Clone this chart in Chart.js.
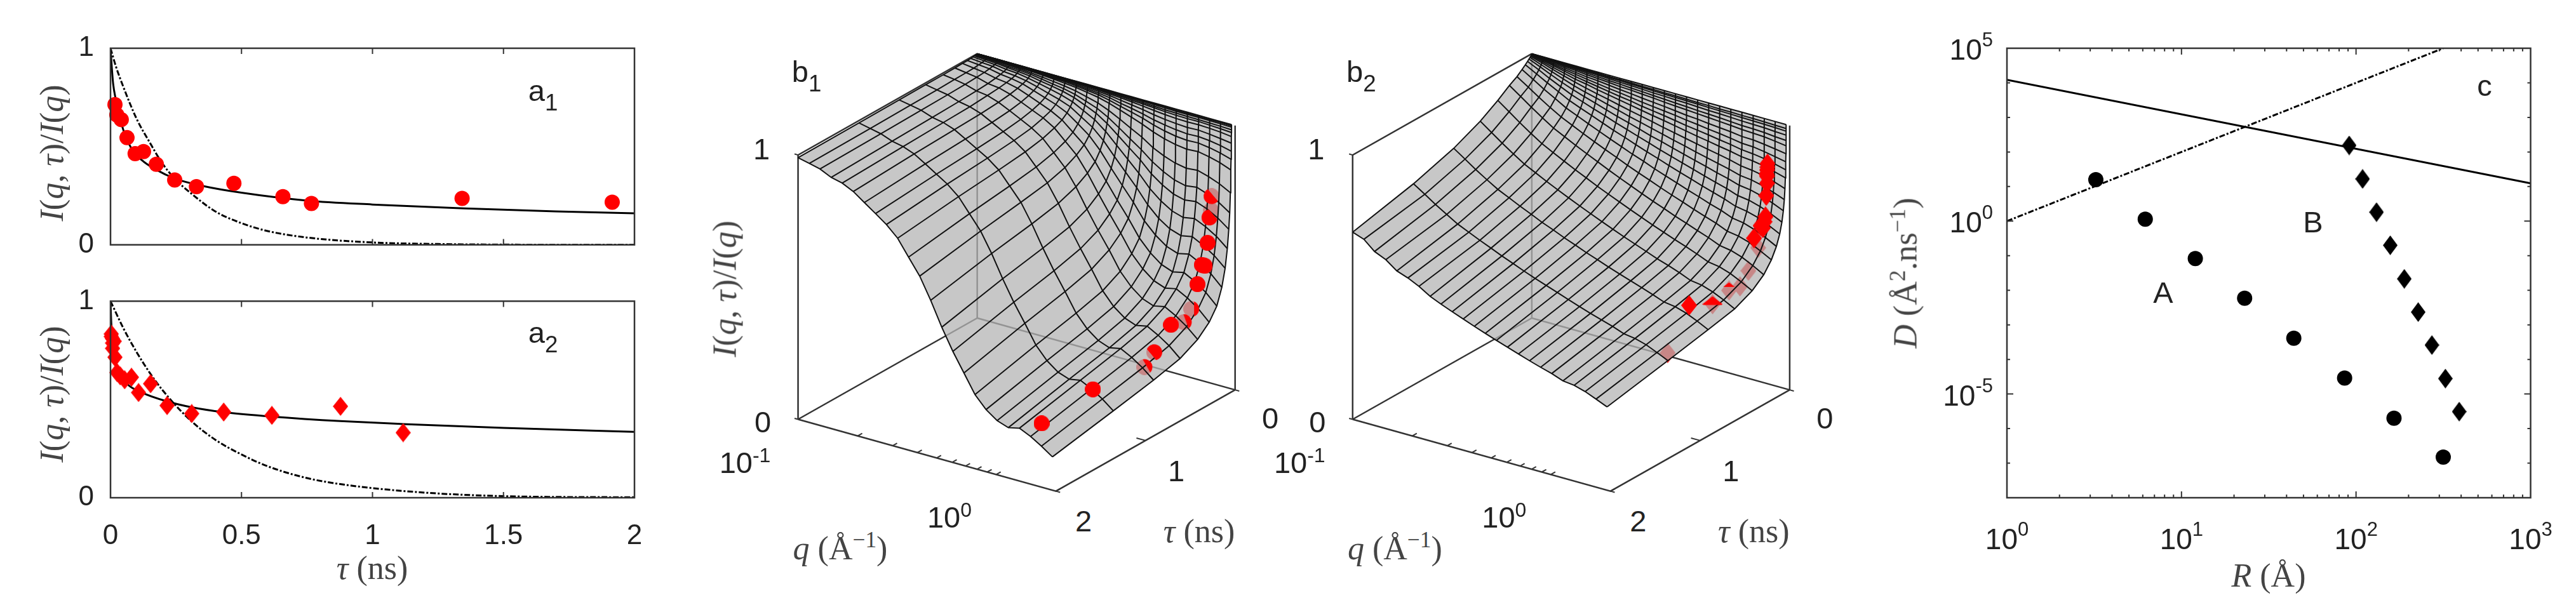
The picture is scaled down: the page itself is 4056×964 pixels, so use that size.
<!DOCTYPE html>
<html>
<head>
<meta charset="utf-8">
<title>I(q,tau)/I(q)</title>
<script src="https://cdn.jsdelivr.net/npm/chart.js@4"></script>
<style>
body { margin: 0; background: #fff; width: 4056px; height: 964px; overflow: hidden; position: relative; }
canvas { position: absolute; }
.t { position: absolute; transform: translate(-50%, -50%); white-space: nowrap; color: #222; font: 47px "Liberation Sans", sans-serif; }
.m { font: 52px "Liberation Serif", serif; color: #444; }
.r { transform: translate(-50%, -50%) rotate(-90deg); }
sup { font-size: 68%; line-height: 0; }
sub { font-size: 78%; line-height: 0; vertical-align: -0.42em; }
</style>
</head>
<body>
<script>
// panel a1 : tau (ns) against I(q,tau)/I(q)
const a1Tau = [0.017, 0.024, 0.041, 0.063, 0.094, 0.126, 0.175, 0.245, 0.328, 0.471, 0.658, 0.767, 1.342, 1.915];
const a1Val = [0.713, 0.661, 0.637, 0.545, 0.464, 0.474, 0.41, 0.33, 0.296, 0.313, 0.245, 0.21, 0.236, 0.217];
const a1SolidTau = [0, 0.005, 0.01, 0.02, 0.03, 0.05, 0.08, 0.12, 0.17, 0.25, 0.35, 0.5, 0.75, 1, 1.35, 1.7, 2];
const a1SolidVal = [1, 0.9, 0.82, 0.74, 0.68, 0.58, 0.49, 0.43, 0.385, 0.335, 0.3, 0.265, 0.225, 0.205, 0.185, 0.17, 0.16];
const a1DashTau = [0, 0.02, 0.05, 0.1, 0.15, 0.2, 0.25, 0.3, 0.4, 0.5, 0.6, 0.75, 1, 1.25, 1.5, 2];
const a1DashVal = [1, 0.91, 0.8, 0.64, 0.52, 0.41, 0.33, 0.27, 0.17, 0.11, 0.07, 0.037, 0.012, 0.004, 0.001, 0];

// panel a2
const a2Tau = [0.003, 0.003, 0.007, 0.008, 0.008, 0.014, 0.017, 0.025, 0.037, 0.054, 0.08, 0.107, 0.153, 0.216, 0.31, 0.432, 0.616, 0.878, 1.117];
const a2Val = [0.833, 0.82, 0.81, 0.787, 0.76, 0.796, 0.715, 0.637, 0.62, 0.6, 0.613, 0.535, 0.58, 0.469, 0.428, 0.436, 0.419, 0.465, 0.331];
const a2SolidTau = [0, 0.003, 0.012, 0.03, 0.063, 0.12, 0.216, 0.31, 0.43, 0.616, 0.878, 1.117, 1.5, 2];
const a2SolidVal = [1, 0.89, 0.74, 0.647, 0.58, 0.535, 0.49, 0.46, 0.435, 0.413, 0.39, 0.375, 0.355, 0.335];
const a2DashTau = [0, 0.05, 0.1, 0.15, 0.2, 0.3, 0.4, 0.5, 0.6, 0.75, 0.9, 1.2, 1.5, 2];
const a2DashVal = [1, 0.86, 0.74, 0.635, 0.545, 0.4, 0.295, 0.22, 0.16, 0.1, 0.065, 0.026, 0.008, 0.002];

// surfaces b1, b2 : one row per tau, one column per q
const qGrid = [0.1, 0.114, 0.129, 0.147, 0.167, 0.19, 0.216, 0.246, 0.279, 0.318, 0.361, 0.411, 0.467, 0.531, 0.604, 0.687, 0.781, 0.888, 1.01, 1.15, 1.31, 1.49, 1.69, 1.92];
const tauGrid = [2, 1.32, 0.871, 0.575, 0.379, 0.25, 0.165, 0.109, 0.072, 0.0475, 0.0314, 0.0207, 0.0137, 0.009, 0.006, 0.0039, 0.0026, 0.0017, 0.0011, 0.0007, 0.0005, 0.0003, 0];
const b1Surface = [
  [.99,.98,.97,.95,.94,.92,.89,.86,.83,.79,.73,.67,.59,.50,.42,.35,.28,.235,.205,.19,.20,.18,.155,.126],
  [.991,.982,.973,.957,.948,.932,.906,.879,.853,.817,.764,.710,.637,.553,.476,.408,.337,.290,.258,.243,.251,.230,.203,.17],
  [.992,.984,.976,.961,.953,.938,.914,.889,.865,.832,.783,.733,.663,.583,.509,.442,.372,.324,.292,.276,.285,.263,.235,.20],
  [.993,.985,.978,.964,.956,.942,.920,.897,.875,.844,.798,.750,.684,.607,.536,.470,.400,.352,.320,.304,.313,.290,.262,.225],
  [.993,.987,.980,.967,.961,.947,.927,.906,.885,.857,.815,.770,.709,.636,.568,.505,.436,.389,.356,.340,.349,.326,.297,.26],
  [.994,.988,.982,.970,.965,.953,.935,.916,.898,.872,.833,.793,.736,.669,.605,.544,.478,.432,.399,.383,.392,.369,.340,.30],
  [.995,.989,.984,.974,.969,.959,.943,.926,.909,.886,.851,.815,.763,.701,.641,.584,.521,.476,.444,.428,.437,.415,.385,.345],
  [.995,.991,.987,.978,.973,.965,.951,.936,.922,.902,.872,.840,.795,.739,.686,.634,.575,.533,.502,.487,.496,.474,.445,.405],
  [.996,.992,.989,.981,.977,.970,.959,.946,.934,.918,.891,.864,.825,.776,.729,.682,.629,.589,.561,.547,.555,.534,.507,.47],
  [.997,.994,.991,.985,.982,.975,.966,.956,.946,.932,.910,.888,.855,.814,.773,.732,.685,.650,.624,.611,.619,.600,.575,.54],
  [.998,.995,.993,.988,.985,.980,.972,.965,.957,.945,.928,.909,.882,.848,.813,.779,.738,.708,.685,.674,.680,.664,.641,.61],
  [.998,.996,.994,.990,.988,.984,.978,.971,.965,.955,.941,.926,.903,.875,.845,.816,.782,.756,.736,.726,.732,.717,.698,.67],
  [.999,.997,.996,.993,.991,.988,.984,.979,.974,.967,.956,.945,.928,.907,.884,.862,.834,.814,.799,.791,.795,.783,.767,.745],
  [.999,.998,.997,.995,.994,.993,.990,.987,.983,.979,.972,.965,.954,.940,.925,.910,.892,.878,.868,.862,.865,.857,.846,.83],
  [.999,.999,.998,.997,.996,.994,.992,.990,.988,.984,.979,.974,.965,.954,.943,.932,.918,.907,.899,.895,.897,.891,.882,.87],
  [.999,.999,.998,.997,.997,.996,.994,.992,.991,.988,.984,.980,.974,.965,.957,.948,.937,.929,.923,.919,.921,.917,.910,.90],
  [1,.999,.999,.998,.998,.997,.996,.995,.993,.992,.989,.986,.982,.976,.970,.964,.956,.950,.946,.943,.945,.941,.936,.93],
  [1,1,.999,.999,.999,.998,.997,.997,.996,.995,.993,.991,.988,.985,.981,.977,.972,.968,.965,.964,.965,.963,.960,.955],
  [1,1,1,.999,.999,.999,.998,.998,.997,.997,.995,.994,.992,.990,.987,.985,.982,.979,.977,.976,.977,.975,.973,.97],
  [1,1,1,1,.999,.999,.999,.999,.998,.998,.997,.996,.995,.993,.992,.990,.988,.986,.985,.984,.984,.983,.982,.98],
  [1,1,1,1,1,1,.999,.999,.999,.999,.998,.998,.997,.997,.996,.995,.994,.993,.992,.992,.992,.992,.991,.99],
  [1,1,1,1,1,1,1,1,1,.999,.999,.999,.999,.998,.998,.997,.997,.997,.996,.996,.996,.996,.996,.995],
  [1,1,1,1,1,1,1,1,1,1,1,1,1,1,1,1,1,1,1,1,1,1,1,1]
];
const b2Surface = [
  [.708,.693,.658,.639,.608,.593,.573,.547,.529,.512,.496,.480,.465,.450,.436,.422,.408,.395,.383,.367,.362,.350,.333,.315],
  [.761,.733,.706,.680,.655,.636,.617,.599,.581,.564,.547,.531,.516,.501,.486,.471,.457,.444,.431,.415,.409,.397,.379,.36],
  [.809,.780,.752,.725,.700,.680,.660,.641,.622,.605,.587,.571,.554,.539,.523,.508,.494,.480,.465,.449,.443,.430,.412,.391],
  [.855,.824,.795,.766,.739,.718,.697,.677,.658,.639,.621,.603,.586,.569,.553,.537,.521,.507,.492,.474,.468,.454,.435,.413],
  [.896,.865,.835,.806,.779,.757,.736,.715,.696,.676,.658,.640,.622,.605,.588,.572,.556,.541,.525,.507,.500,.486,.466,.444],
  [.928,.898,.869,.840,.813,.792,.771,.751,.732,.712,.694,.676,.658,.641,.625,.608,.593,.577,.562,.544,.537,.523,.503,.48],
  [.945,.917,.890,.863,.839,.819,.799,.780,.762,.744,.726,.709,.693,.676,.660,.645,.629,.614,.600,.582,.575,.562,.542,.52],
  [.961,.935,.910,.886,.862,.844,.826,.808,.791,.774,.757,.742,.725,.710,.695,.680,.666,.651,.638,.621,.614,.600,.582,.56],
  [.972,.949,.927,.905,.883,.866,.850,.833,.817,.802,.786,.771,.757,.742,.728,.714,.700,.687,.674,.658,.651,.639,.621,.60],
  [.98,.960,.939,.919,.900,.885,.870,.856,.841,.827,.813,.799,.785,.772,.759,.746,.733,.721,.709,.694,.688,.676,.660,.64],
  [.986,.968,.950,.932,.916,.902,.889,.875,.862,.850,.837,.824,.813,.801,.789,.777,.766,.754,.743,.730,.724,.713,.698,.68],
  [.99,.974,.959,.944,.929,.917,.906,.894,.883,.871,.861,.850,.839,.828,.818,.807,.797,.787,.777,.765,.760,.750,.736,.72],
  [.993,.980,.967,.954,.942,.931,.921,.912,.902,.892,.883,.874,.864,.855,.846,.837,.828,.820,.811,.800,.795,.787,.775,.76],
  [.995,.984,.973,.963,.952,.945,.936,.928,.920,.912,.904,.896,.889,.881,.873,.865,.858,.850,.843,.834,.830,.823,.812,.80],
  [.997,.988,.979,.970,.961,.954,.947,.940,.933,.927,.919,.913,.907,.900,.893,.887,.881,.874,.868,.860,.856,.850,.841,.83],
  [.998,.991,.983,.976,.969,.963,.957,.951,.946,.940,.934,.929,.924,.919,.913,.908,.902,.897,.891,.884,.882,.876,.868,.86],
  [.999,.993,.987,.982,.976,.971,.968,.963,.958,.954,.949,.945,.941,.936,.931,.928,.923,.919,.915,.909,.908,.903,.897,.89],
  [.999,.995,.991,.987,.983,.979,.976,.973,.969,.967,.964,.961,.957,.954,.951,.948,.945,.942,.939,.935,.933,.931,.926,.92],
  [1,.997,.994,.991,.988,.985,.983,.980,.978,.975,.973,.970,.968,.965,.963,.960,.958,.956,.953,.950,.949,.947,.943,.94],
  [1,.998,.996,.994,.992,.990,.989,.987,.985,.984,.982,.980,.979,.977,.976,.974,.972,.971,.969,.967,.966,.965,.962,.96],
  [1,.999,.998,.996,.995,.994,.993,.992,.991,.990,.989,.988,.987,.986,.985,.984,.983,.982,.981,.980,.979,.978,.977,.975],
  [1,.999,.999,.998,.997,.996,.996,.995,.995,.994,.993,.993,.992,.992,.991,.990,.990,.989,.989,.988,.988,.987,.986,.985],
  [1,1,1,1,1,1,1,1,1,1,1,1,1,1,1,1,1,1,1,1,1,1,1,1]
];
const qMeasured = 1.55;
// markers behind the surface, and the part of a marker that pokes through it
const b1Faded = [0.767, 0.658, 0.328, 0.245, 0.024, 0.017, 0.041];
const b1Poke = [[0.767, 0.35, -30], [0.658, 0.72, -40], [0.328, 0.35, -20], [0.245, 0.32, 0], [0.017, 0.6, 140], [0.041, 0.8, 140]];
const b2Faded = [1.117, 0.616, 0.432, 0.31, 0.216, 0.107];
const b2Poke = [[0.616, 0.55, -90], [0.432, 0.28, -90]];
const qTicks = [0.2, 0.3, 0.4, 0.5, 0.6, 0.7, 0.8, 0.9, 1, 2];
const tauTicks = [0, 1, 2];

// panel c : R against D
const cARadius = [3.23, 6.2, 12, 23, 44, 86, 165, 316];
const cADiff = [15.8, 1.14, 0.083, 0.0059, 4.1e-4, 2.9e-5, 2.0e-6, 1.5e-7];
const cBRadius = [91.4, 109, 131, 157, 189, 227, 272, 325, 390];
const cBDiff = [155, 16.6, 1.82, 0.2, 0.0214, 0.00234, 2.6e-4, 2.8e-5, 3.1e-6];
const cSolidR = [1, 1000];
const cSolidD = [12200, 12.4];
const cDashR = [1, 316];
const cDashD = [1, 1e5];

const RED = '#ff0000';
const INK = '#333333';
const FONT = '"Liberation Sans", sans-serif';

function xy(xs, ys) { return xs.map((x, i) => ({ x: x, y: ys[i] })); }

function tracePath(g, shape, w, h) {
  g.beginPath();
  if (shape === 'circle') {
    g.arc(w / 2, h / 2, w / 2, 0, Math.PI * 2);
  } else {
    g.moveTo(w / 2, 0); g.lineTo(w, h / 2); g.lineTo(w / 2, h); g.lineTo(0, h / 2);
    g.closePath();
  }
}

function glyph(shape, w, h, color, frac) {
  const c = document.createElement('canvas');
  c.width = w; c.height = h;
  const g = c.getContext('2d');
  tracePath(g, shape, w, h);
  if (frac) {
    g.clip();
    g.fillStyle = color;
    g.fillRect(w * (1 - frac), 0, w * frac, h);
  } else {
    g.fillStyle = color;
    g.fill();
  }
  return c;
}

function addCanvas(left, top, w, h) {
  const c = document.createElement('canvas');
  c.width = w; c.height = h;
  c.style.left = left + 'px'; c.style.top = top + 'px';
  c.style.width = w + 'px'; c.style.height = h + 'px';
  document.body.appendChild(c);
  return c;
}

function label(html, x, y, cls) {
  const d = document.createElement('div');
  d.className = 't ' + (cls || '');
  d.innerHTML = html;
  d.style.left = x + 'px'; d.style.top = y + 'px';
  document.body.appendChild(d);
}

function curve(points, dash) {
  return { data: points, showLine: true, pointRadius: 0, borderColor: '#000', borderWidth: 3, borderDash: dash || [], cubicInterpolationMode: 'monotone', fill: false };
}

function markers(points, style, radius, color) {
  return { data: points, showLine: false, pointStyle: style, pointRadius: radius, pointBackgroundColor: color, pointBorderWidth: 0, clip: false };
}

// box with inward ticks on the four sides, as MATLAB draws it
const boxPlugin = {
  id: 'box',
  afterDraw(chart, args, opts) {
    const a = chart.chartArea, g = chart.ctx;
    g.save();
    g.strokeStyle = INK; g.lineWidth = 2.5;
    g.strokeRect(a.left, a.top, a.right - a.left, a.bottom - a.top);
    g.lineWidth = 2;
    g.beginPath();
    (opts.x || []).forEach(t => {
      const p = chart.scales.x.getPixelForValue(t.v);
      g.moveTo(p, a.bottom); g.lineTo(p, a.bottom - t.l);
      g.moveTo(p, a.top); g.lineTo(p, a.top + t.l);
    });
    (opts.y || []).forEach(t => {
      const p = chart.scales.y.getPixelForValue(t.v);
      g.moveTo(a.left, p); g.lineTo(a.left + t.l, p);
      g.moveTo(a.right, p); g.lineTo(a.right - t.l, p);
    });
    g.stroke();
    g.restore();
  }
};

function panelA(canvas, datasets, top, bottomH, showX) {
  new Chart(canvas, {
    type: 'scatter',
    data: { datasets: datasets },
    plugins: [boxPlugin],
    options: {
      responsive: false, animation: false,
      layout: { padding: { top: top, right: 101, left: 0, bottom: 0 } },
      plugins: {
        legend: { display: false }, tooltip: { enabled: false },
        box: { x: [0.5, 1, 1.5].map(v => ({ v: v, l: 9 })), y: [] }
      },
      scales: {
        x: {
          type: 'linear', min: 0, max: 2,
          grid: { display: false }, border: { display: false },
          afterFit: s => { s.height = bottomH; },
          ticks: { display: showX, stepSize: 0.5, padding: 26, color: '#222', font: { family: FONT, size: 44 }, maxRotation: 0, callback: v => String(v) }
        },
        y: {
          type: 'linear', min: 0, max: 1,
          grid: { display: false }, border: { display: false },
          afterFit: s => { s.width = 174; },
          afterBuildTicks: s => { s.ticks = [{ value: 0 }, { value: 1 }]; },
          ticks: { padding: 18, color: '#222', font: { family: FONT, size: 44 }, callback: v => String(v) }
        }
      }
    }
  });
}

panelA(addCanvas(0, 0, 1100, 430), [
  markers(xy(a1Tau, a1Val), 'circle', 12, RED),
  curve(xy(a1SolidTau, a1SolidVal)),
  curve(xy(a1DashTau, a1DashVal), [9, 3, 3, 3])
], 76, 25.5, false);

panelA(addCanvas(0, 430, 1100, 534), [
  markers(xy(a2Tau, a2Val), glyph('diamond', 24, 30, RED), 12, RED),
  curve(xy(a2SolidTau, a2SolidVal)),
  curve(xy(a2DashTau, a2DashVal), [9, 3, 3, 3])
], 25, 180, true);

// 3D panels: a plain scatter chart whose hidden linear scales count canvas pixels
function project(o, q, tau, z) {
  const f = Math.log10(q / 0.1) / Math.log10(20);
  const t = 1 - tau / 2;
  return { x: o.x + 417.7 * f + 290.2 * t, y: o.y + 116.8 * f - 164.7 * t - 430 * z };
}

function wire(points, color, width) {
  return { data: points, showLine: true, pointRadius: 0, borderColor: color, borderWidth: width, fill: false };
}

function panelB(canvas, o, surface, taus, vals, faded, poke, shape, w, h) {
  const qMin = 0.1, qMax = 2, tMax = 2;
  const P = (q, tau, z) => project(o, q, tau, z);
  const nq = qGrid.length, nt = tauGrid.length;
  const layers = [];

  // axes lines behind the surface
  [
    [P(qMin, 0, 0), P(qMin, 0, 1)], [P(qMin, 0, 0), P(qMax, 0, 0)], [P(qMin, 0, 0), P(qMin, tMax, 0)],
    [P(qMin, tMax, 0), P(qMax, tMax, 0), P(qMax, 0, 0)],
    [P(qMin, tMax, 0), P(qMin, tMax, 1), P(qMin, 0, 1)],
    [P(qMax, 0, 0), P(qMax, 0, 1)]
  ].forEach(p => layers.push(wire(p, INK, 2.5)));
  qTicks.forEach(q => layers.push(wire([P(q, tMax, 0), P(q, tMax - 0.05, 0)], INK, 2)));
  tauTicks.forEach(t => layers.push(wire([P(qMax, t, 0), P(qMax * (t === 1 ? 0.9 : 1.05), t, 0)], INK, 2)));
  [0, 1].forEach(z => layers.push(wire([P(qMin, tMax, z), P(qMin * 0.96, tMax, z)], INK, 2)));

  const pts = taus.map((tau, i) => P(qMeasured, tau, vals[i]));
  const full = glyph(shape, w, h, RED);
  layers.push(markers(pts, full, 12, RED));

  // surface
  const outline = [];
  for (let j = 0; j < nq; j++) outline.push(P(qGrid[j], tauGrid[0], surface[0][j]));
  for (let i = 1; i < nt; i++) outline.push(P(qGrid[nq - 1], tauGrid[i], surface[i][nq - 1]));
  for (let j = nq - 2; j >= 0; j--) outline.push(P(qGrid[j], tauGrid[nt - 1], surface[nt - 1][j]));
  for (let i = nt - 2; i >= 0; i--) outline.push(P(qGrid[0], tauGrid[i], surface[i][0]));
  layers.push({ data: outline, showLine: true, pointRadius: 0, borderWidth: 0, borderColor: 'transparent', backgroundColor: 'rgba(180,180,180,0.75)', fill: 'shape' });

  for (let i = 0; i < nt; i++) layers.push(wire(qGrid.map((q, j) => P(q, tauGrid[i], surface[i][j])), '#111', 2));
  for (let j = 0; j < nq; j++) layers.push(wire(tauGrid.map((t, i) => P(qGrid[j], t, surface[i][j])), '#111', 2));

  const above = pts.filter((p, i) => faded.indexOf(taus[i]) < 0);
  layers.push(markers(above, full, 12, RED));
  poke.forEach(k => {
    const at = pts[taus.indexOf(k[0])];
    const ds = markers([at], glyph(shape, w, h, RED, k[1]), 12, RED);
    ds.pointRotation = k[2];
    layers.push(ds);
  });

  new Chart(canvas, {
    type: 'scatter',
    data: { datasets: layers.reverse() },
    options: {
      responsive: false, animation: false,
      layout: { padding: 0 },
      plugins: { legend: { display: false }, tooltip: { enabled: false } },
      scales: {
        x: { type: 'linear', min: 0, max: canvas.width, display: false },
        y: { type: 'linear', min: 0, max: canvas.height, reverse: true, display: false }
      }
    }
  });
}

panelB(addCanvas(1170, 30, 860, 760), { x: 76.7, y: 638.7 }, b1Surface, a1Tau, a1Val, b1Faded, b1Poke, 'circle', 25, 25);
panelB(addCanvas(2040, 30, 860, 760), { x: 80, y: 638.7 }, b2Surface, a2Tau, a2Val, b2Faded, b2Poke, 'diamond', 25, 32);

// panel c
const cLogTicks = {
  id: 'logTicks',
  afterDraw(chart) {
    const g = chart.ctx, a = chart.chartArea;
    const put = (exp, x, y, alignRight) => {
      const big = '10', small = String(exp);
      g.fillStyle = '#222';
      g.textBaseline = 'alphabetic';
      g.font = '46px ' + FONT;
      const w1 = g.measureText(big).width;
      g.font = '31px ' + FONT;
      const w2 = g.measureText(small).width;
      const left = alignRight ? x - w1 - w2 : x - (w1 + w2) / 2;
      g.font = '46px ' + FONT;
      g.textAlign = 'left';
      g.fillText(big, left, y);
      g.font = '31px ' + FONT;
      g.fillText(small, left + w1, y - 21);
    };
    [0, 1, 2, 3].forEach(e => put(e, chart.scales.x.getPixelForValue(Math.pow(10, e)), a.bottom + 81, false));
    [5, 0, -5].forEach(e => put(e, a.left - 22, chart.scales.y.getPixelForValue(Math.pow(10, e)) + 18, true));
  }
};

const cxTicks = [];
[1, 10, 100].forEach(d => {
  [1, 2, 3, 4, 5, 6, 7, 8, 9].forEach(m => cxTicks.push({ v: d * m, l: m === 1 ? 10 : 5 }));
});
const cyTicks = [];
for (let e = -8; e <= 5; e++) cyTicks.push({ v: Math.pow(10, e), l: e % 5 === 0 ? 10 : 5 });

new Chart(addCanvas(3000, 0, 1056, 964), {
  type: 'scatter',
  data: {
    datasets: [
      markers(xy(cARadius, cADiff), 'circle', 12, '#000'),
      markers(xy(cBRadius, cBDiff), glyph('diamond', 23, 31, '#000'), 12, '#000'),
      curve(xy(cSolidR, cSolidD)),
      curve(xy(cDashR, cDashD), [9, 3, 3, 3])
    ]
  },
  plugins: [boxPlugin, cLogTicks],
  options: {
    responsive: false, animation: false,
    layout: { padding: { top: 76, right: 71.5, left: 0, bottom: 0 } },
    plugins: { legend: { display: false }, tooltip: { enabled: false }, box: { x: cxTicks, y: cyTicks } },
    scales: {
      x: {
        type: 'logarithmic', min: 1, max: 1000,
        grid: { display: false }, border: { display: false },
        afterFit: s => { s.height = 180; },
        ticks: { display: false }
      },
      y: {
        type: 'logarithmic', min: 1e-8, max: 1e5,
        grid: { display: false }, border: { display: false },
        afterFit: s => { s.width = 160; },
        ticks: { display: false }
      }
    }
  }
});

// axis titles, panel tags and the tick labels of the 3D panels
const iqTitle = '<i>I</i>(<i>q</i>, <i>&tau;</i>)/<i>I</i>(<i>q</i>)';
const qTitle = '<i>q</i> (&Aring;<sup>&minus;1</sup>)';
const tauTitle = '<i>&tau;</i> (ns)';

label(iqTitle, 81, 241, 'm r');
label(iqTitle, 81, 621, 'm r');
label(tauTitle, 586, 894, 'm');
label('a<sub>1</sub>', 855, 142);
label('a<sub>2</sub>', 855, 523);

[[0, 'b<sub>1</sub>'], [873.3, 'b<sub>2</sub>']].forEach(b => {
  const dx = b[0];
  label(b[1], 1270 + dx, 112);
  label('1', 1199 + dx, 234);
  label('0', 1201 + dx, 664);
  label('10<sup>-1</sup>', 1173 + dx, 728);
  label('10<sup>0</sup>', 1495 + dx, 814);
  label('0', 2000 + dx, 658);
  label('1', 1852 + dx, 741);
  label('2', 1706 + dx, 820);
  label(qTitle, 1323 + dx, 863, 'm');
  label(tauTitle, 1888 + dx, 836, 'm');
});
label(iqTitle, 1141, 455, 'm r');
label('<i>D</i> (&Aring;<sup>2</sup>.ns<sup>&minus;1</sup>)', 3000, 430, 'm r');
label('<i>R</i> (&Aring;)', 3572, 906, 'm');
label('c', 3912, 134);
label('A', 3406, 460);
label('B', 3642, 349);
</script>
</body>
</html>
